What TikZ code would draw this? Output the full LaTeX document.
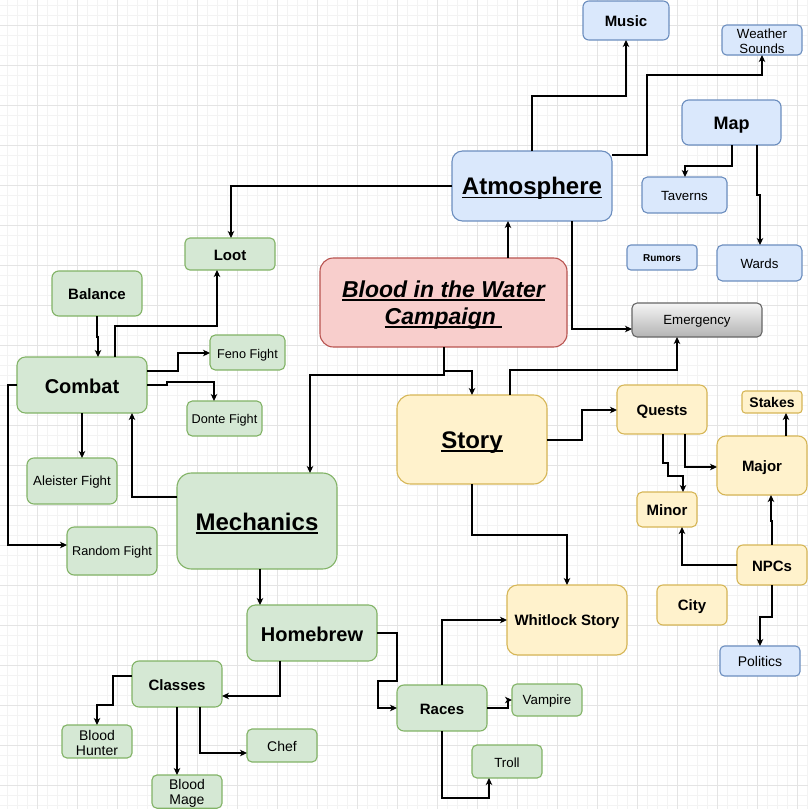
\documentclass[tikz,border=0pt]{standalone}
\usepackage{fontspec}
\setmainfont{Liberation Sans}
\usetikzlibrary{arrows.meta}
\definecolor{gf}{HTML}{D5E8D4}\definecolor{gl}{HTML}{82B366}
\definecolor{yf}{HTML}{FFF2CC}\definecolor{yl}{HTML}{D6B656}
\definecolor{bf}{HTML}{DAE8FC}\definecolor{bl}{HTML}{6C8EBF}
\definecolor{rf}{HTML}{F8CECC}\definecolor{rl}{HTML}{B85450}
\definecolor{ggl}{HTML}{666666}\definecolor{ggtop}{HTML}{F5F5F5}\definecolor{ggbot}{HTML}{B3B3B3}
\definecolor{gridmaj}{HTML}{E4E4E4}\definecolor{gridmin}{HTML}{F3F3F3}
\newsavebox\ulbox
\newcommand\uln[1]{\sbox\ulbox{#1}\rlap{\rule[-3.5pt]{\wd\ulbox}{1.8pt}}\usebox\ulbox}
\newcommand\dst{\vrule width 0pt height .95em depth .10em\relax}
\newcommand\bx[7]{%
 \pgfmathsetmacro\bw{#4-#2}\pgfmathsetmacro\bh{#5-#3}%
 \pgfmathsetmacro\br{0.15*min(\bw,\bh)}%
 \node[#6, minimum width=\bw pt, minimum height=\bh pt, rounded corners=\br pt, anchor=north west] (#1) at (#2,#3) {\dst#7};}
\tikzset{
 box/.style={draw, line width=1.1pt, outer sep=0pt, inner sep=1pt, align=center},
 gb/.style={box, fill=gf, draw=gl},
 yb/.style={box, fill=yf, draw=yl},
 bb/.style={box, fill=bf, draw=bl},
 rb/.style={box, fill=rf, draw=rl},
 greyb/.style={box, draw=ggl, top color=ggtop, bottom color=ggbot},
 fb10/.style={font=\fontsize{10}{12}\selectfont\bfseries},
 fb14/.style={font=\fontsize{14}{16}\selectfont\bfseries},
 fb15/.style={font=\fontsize{15}{17}\selectfont\bfseries},
 fb18/.style={font=\fontsize{18}{20}\selectfont\bfseries},
 fb20/.style={font=\fontsize{20}{23}\selectfont\bfseries},
 fb24/.style={font=\fontsize{24}{27}\selectfont\bfseries},
 fbi23/.style={font=\fontsize{23}{27}\selectfont\bfseries\itshape},
 fr12/.style={font=\fontsize{12.7}{14}\selectfont},
 fr13/.style={font=\fontsize{13.3}{15}\selectfont},
 fr14/.style={font=\fontsize{14}{16}\selectfont},
 fr14l/.style={font=\fontsize{14}{15}\selectfont},
 arr/.style={draw, line width=1.2pt, -{Stealth[length=7pt,width=6.5pt,inset=2pt]}},
 gmin/.style={draw=gridmin, line width=0.8pt},
 gmaj/.style={draw=gridmaj, line width=0.9pt}
}
\begin{document}
\begin{tikzpicture}[x=1pt,y=-1pt]
\useasboundingbox (0,0) rectangle (808,809);
\fill[white] (0,0) rectangle (808,809);
\foreach \x in {7,17,...,807} \draw[gmin] (\x,0)--(\x,809);
\foreach \y in {5,15,...,805} \draw[gmin] (0,\y)--(808,\y);
\foreach \x in {37,77,...,797} \draw[gmaj] (\x,0)--(\x,809);
\foreach \y in {25,65,...,785} \draw[gmaj] (0,\y)--(808,\y);

\bx{music}{583}{1}{669}{40}{bb,fb15}{Music}
\bx{weather}{722}{25}{802}{55}{bb,fr13}{Weather\\Sounds}
\bx{map}{682}{100}{781}{145}{bb,fb18}{Map}
\bx{atm}{452}{151}{612}{221}{bb,fb24}{\uln{Atmosphere}}
\bx{taverns}{642}{177}{727}{213}{bb,fr13}{Taverns}
\bx{rumors}{627}{245}{697}{270}{bb,fb10}{Rumors}
\bx{wards}{717}{245}{802}{281}{bb,fr13}{Wards}
\bx{emerg}{632}{303}{762}{337}{greyb,fr13}{Emergency}
\bx{loot}{185}{238}{275}{270}{gb,fb15}{Loot}
\bx{balance}{52}{271}{142}{316}{gb,fb15}{Balance}
\bx{blood}{320}{258}{567}{347}{rb,fbi23}{\uln{Blood in the Water}\\\dst\uln{Campaign\ }}
\bx{combat}{17}{357}{147}{413}{gb,fb20}{Combat}
\bx{feno}{210}{335}{285}{370}{gb,fr12}{\raisebox{-2pt}{Feno Fight}}
\bx{donte}{187}{401}{262}{436}{gb,fr12}{Donte Fight}
\bx{aleister}{27}{458}{117}{504}{gb,fr13}{Aleister Fight}
\bx{random}{67}{527}{157}{575}{gb,fr12}{Random Fight}
\bx{mech}{177}{473}{337}{569}{gb,fb24}{\uln{Mechanics}}
\bx{story}{397}{395}{547}{484}{yb,fb24}{\uln{Story}}
\bx{quests}{617}{385}{707}{434}{yb,fb15}{Quests}
\bx{stakes}{742}{391}{802}{413}{yb,fb14}{Stakes}
\bx{major}{717}{436}{807}{495}{yb,fb15}{Major}
\bx{minor}{637}{492}{697}{527}{yb,fb15}{Minor}
\bx{npcs}{737}{545}{807}{585}{yb,fb15}{NPCs}
\bx{city}{657}{585}{727}{625}{yb,fb15}{City}
\bx{politics}{720}{646}{800}{676}{bb,fr14}{Politics}
\bx{whit}{507}{585}{627}{655}{yb,fb15}{Whitlock Story}
\bx{home}{247}{605}{377}{661}{gb,fb20}{Homebrew}
\bx{classes}{132}{661}{222}{707}{gb,fb15}{Classes}
\bx{bhunter}{62}{725}{132}{758}{gb,fr14l}{Blood\\Hunter}
\bx{chef}{247}{729}{317}{762}{gb,fr14}{Chef}
\bx{bmage}{152}{775}{222}{808}{gb,fr14l}{Blood\\Mage}
\bx{races}{397}{685}{487}{731}{gb,fb15}{Races}
\bx{vamp}{512}{684}{582}{716}{gb,fr13}{Vampire}
\bx{troll}{472}{745}{542}{778}{gb,fr13}{Troll}

\draw[arr] (atm.north -| 532,0) -- (532,96) -- (626,96) -- (music.south -| 626,0);
\draw[arr] (atm.east |- 0,155) -- (647,155) -- (647,75) -- (762,75) -- (weather.south -| 762,0);
\draw[arr] (map.south -| 732,0) -- (732,166) -- (685,166) -- (taverns.north -| 685,0);
\draw[arr] (map.south -| 757,0) -- (757,195) -- (760,195) -- (wards.north -| 760,0);
\draw[arr] (blood.north -| 508,0) -- (atm.south -| 508,0);
\draw[arr] (atm.south -| 572,0) -- (572,329) -- (emerg.west |- 0,329);
\draw[arr] (atm.west |- 0,186) -- (231,186) -- (loot.north -| 231,0);
\draw[arr] (combat.north -| 115,0) -- (115,326) -- (217,326) -- (loot.south -| 217,0);
\draw[arr] (balance.south -| 97,0) -- (97,337) -- (98,337) -- (combat.north -| 98,0);
\draw[arr] (combat.east |- 0,371) -- (178,371) -- (178,353) -- (feno.west |- 0,353);
\draw[arr] (combat.east |- 0,385) -- (167,385) -- (167,382) -- (214,382) -- (donte.north -| 214,0);
\draw[arr] (combat.south -| 82,0) -- (aleister.north -| 82,0);
\draw[arr] (combat.west |- 0,385) -- (8,385) -- (8,545) -- (random.west |- 0,545);
\draw[arr] (mech.west |- 0,497) -- (132,497) -- (combat.south -| 132,0);
\draw[arr] (blood.south -| 444,0) -- (444,375) -- (310,375) -- (mech.north -| 310,0);
\draw[arr] (blood.south -| 444,0) -- (444,371) -- (472,371) -- (story.north -| 472,0);
\draw[arr] (story.north -| 510,0) -- (510,370) -- (677,370) -- (emerg.south -| 677,0);
\draw[arr] (story.east |- 0,440) -- (582,440) -- (582,410) -- (quests.west |- 0,410);
\draw[arr] (story.south -| 472,0) -- (472,535) -- (567,535) -- (whit.north -| 567,0);
\draw[arr] (quests.south -| 663,0) -- (663,463) -- (668,463) -- (668,476) -- (683,476) -- (minor.north -| 683,0);
\draw[arr] (quests.south -| 685,0) -- (685,467) -- (major.west |- 0,467);
\draw[arr] (major.north -| 786,0) -- (stakes.south -| 786,0);
\draw[arr] (npcs.north -| 772,0) -- (772,521) -- (771,521) -- (major.south -| 771,0);
\draw[arr] (npcs.west |- 0,565) -- (682,565) -- (minor.south -| 682,0);
\draw[arr] (npcs.south -| 772,0) -- (772,617) -- (760,617) -- (politics.north -| 760,0);
\draw[arr] (mech.south -| 260,0) -- (home.north -| 260,0);
\draw[arr] (home.south -| 280,0) -- (280,696) -- (classes.east |- 0,696);
\draw[arr] (home.east |- 0,633) -- (397,633) -- (397,681) -- (378,681) -- (378,708) -- (races.west |- 0,708);
\draw[arr] (classes.west |- 0,676) -- (113,676) -- (113,705) -- (97,705) -- (bhunter.north -| 97,0);
\draw[arr] (classes.south -| 177,0) -- (bmage.north -| 177,0);
\draw[arr] (classes.south -| 200,0) -- (200,753) -- (chef.west |- 0,753);
\draw[arr] (races.north -| 442,0) -- (442,620) -- (whit.west |- 0,620);
\draw[arr] (races.east |- 0,708) -- (508,708) -- (508,700) -- (vamp.west |- 0,700);
\draw[arr] (races.south -| 442,0) -- (442,798) -- (489,798) -- (troll.south -| 489,0);
\end{tikzpicture}
\end{document}
